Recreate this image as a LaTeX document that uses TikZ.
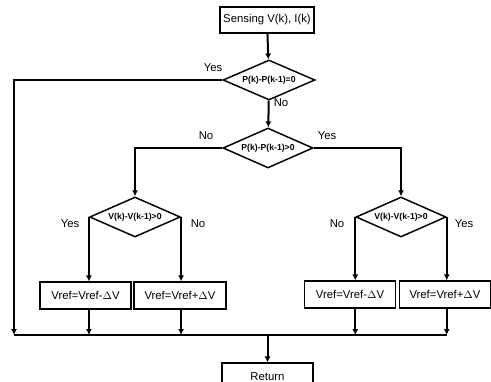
\documentclass[tikz,border=0pt]{standalone}
\usepackage{fontspec}
\setmainfont{Liberation Sans}
\usetikzlibrary{shapes.geometric,arrows.meta,positioning,calc}
\tikzset{
    flowbox/.style = {draw, line width=1.1pt, rectangle, inner sep=0pt, minimum height=20pt, font=\fontsize{8.5}{10}\selectfont},
    flowdec/.style = {draw, line width=1.1pt, diamond, aspect=2.3, inner sep=0pt, minimum width=68pt, minimum height=30pt, font=\fontsize{6.5}{8}\selectfont\bfseries},
    flowlbl/.style = {font=\fontsize{8.5}{10}\selectfont, inner sep=0pt},
    flowline/.style = {line width=1.5pt},
    flowarr/.style = {line width=1.5pt, -{Latex[length=4.5pt,width=4.5pt]}}
}

\begin{document}
\begin{tikzpicture}[x=0.75pt,y=-0.75pt]
                \useasboundingbox (0,0) rectangle (491,381);
                \clip (0,0) rectangle (491,381);

                % top
                \node[flowbox, minimum width=70.5pt, minimum height=19.5pt] (sense) at (267,20) {Sensing V(k), I(k)};
                \node[flowdec, minimum width=69pt] (dp0) at (269,80) {P(k)-P(k-1)=0};
                \node[flowdec, minimum width=67.5pt] (dp) at (268,148) {P(k)-P(k-1)>0};

                % left branch
                \node[flowdec] (dvl) at (135,217) {V(k)-V(k-1)>0};
                \node[flowbox, minimum width=68pt] (decl) at (85.5,295.5) {Vref=Vref-$\Delta$V};
                \node[flowbox, minimum width=69pt] (incl) at (180,295.5) {Vref=Vref+$\Delta$V};

                % right branch
                \node[flowdec, minimum width=67.5pt] (dvr) at (401,217) {V(k)-V(k-1)>0};
                \node[flowbox, minimum width=68pt] (decr) at (350,294.5) {Vref=Vref-$\Delta$V};
                \node[flowbox, minimum width=68pt] (incr) at (445,294.5) {Vref=Vref+$\Delta$V};

                % return
                \node[flowbox, minimum width=68pt] (ret) at (267.5,376.5) {Return};

                % bus
                \coordinate (busl) at (14,335);
                \coordinate (busr) at (dvr.east |- busl);
                \coordinate (busm) at (ret.north |- busl);

                \draw[flowarr] (sense) -- (dp0);
                \draw[flowarr] (dp0) -- (dp);
                \draw[flowarr] (dp0.west) -| (busl);
                \draw[flowarr] (dp.west) -| (dvl.north);
                \draw[flowarr] (dp.east) -| (dvr.north);

                \draw[flowarr] (dvl.west) -- (dvl.west |- decl.north);
                \draw[flowarr] (dvl.east) -- (dvl.east |- incl.north);
                \draw[flowarr] (dvr.west) -- (dvr.west |- decr.north);
                \draw[flowarr] (dvr.east) -- (dvr.east |- incr.north);

                \draw[flowarr] (dvl.west |- decl.south) -- (dvl.west |- busl);
                \draw[flowarr] (dvl.east |- incl.south) -- (dvl.east |- busl);
                \draw[flowarr] (dvr.west |- decr.south) -- (dvr.west |- busl);
                \draw[flowarr] (dvr.east |- incr.south) -- (busr);

                \draw[flowline] (busl) -- (busr);
                \draw[flowarr] (busm) -- (ret);

                %% yes / no
                \node[flowlbl] (y0) at (213,68) {Yes};
                \node[flowlbl] (n0) at (281,103) {No};
                \node[flowlbl] (n1) at (206,136) {No};
                \node[flowlbl] (y1) at (327,136) {Yes};
                \node[flowlbl] (y2) at (70,224) {Yes};
                \node[flowlbl] (n2) at (198,224) {No};
                \node[flowlbl] (n3) at (337,224) {No};
                \node[flowlbl] (y3) at (464,224) {Yes};

            \end{tikzpicture}
\end{document}
